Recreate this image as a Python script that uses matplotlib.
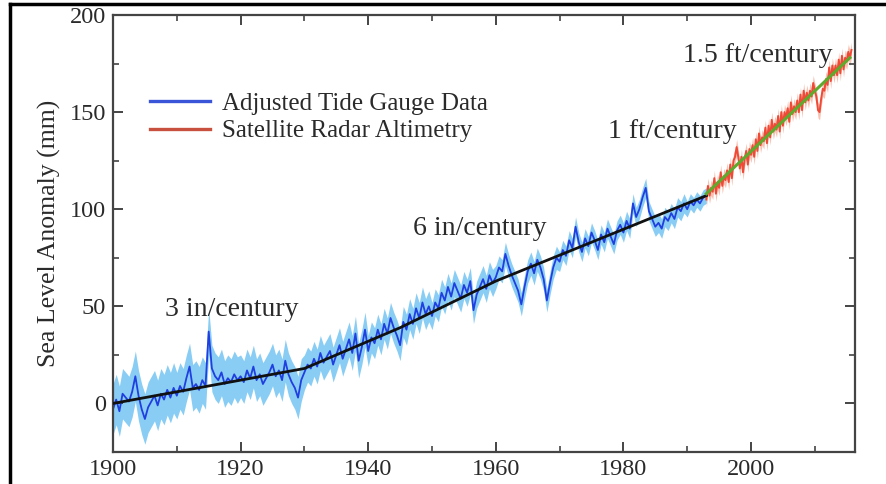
import numpy as np
import matplotlib
matplotlib.use("Agg")
import matplotlib.pyplot as plt
from matplotlib.lines import Line2D
from matplotlib.ticker import MultipleLocator

# ---------------- data ----------------
tide_start, tide_step = 1900.0, 0.5
tide_1900s = [-3, 2, -4, 5, 3, 1, 6, 14, 4, -3, -8, -2, 1, 4, -1, 5, 2, 7, 3, 8]
tide_1910s = [4, 9, 6, 13, 19, 8, 10, 7, 12, 9, 37, 18, 14, 12, 16, 10, 13, 11, 15, 12]
tide_1920s = [14, 11, 17, 13, 19, 12, 15, 10, 13, 16, 20, 14, 17, 12, 22, 15, 11, 8, 3, 12]
tide_1930s = [16, 20, 18, 23, 19, 26, 21, 24, 27, 20, 25, 30, 23, 28, 33, 26, 36, 22, 29, 38]
tide_1940s = [27, 34, 31, 38, 33, 41, 36, 44, 39, 35, 30, 42, 38, 46, 41, 49, 44, 52, 46, 50]
tide_1950s = [45, 52, 49, 57, 53, 60, 55, 62, 58, 54, 61, 57, 63, 48, 56, 60, 64, 59, 66, 62]
tide_1960s = [65, 70, 68, 77, 71, 66, 62, 58, 51, 60, 68, 72, 67, 74, 70, 64, 53, 62, 70, 75]
tide_1970s = [73, 79, 76, 84, 80, 91, 83, 78, 85, 81, 88, 84, 79, 87, 83, 90, 86, 82, 89, 92]
tide_1980s = [88, 94, 90, 103, 96, 100, 106, 111, 99, 95, 91, 93, 90, 96, 94, 98, 95, 101, 99, 103]
tide_1990s = [100, 104, 102, 105, 103, 106, 107]
tide_decades = [tide_1900s, tide_1910s, tide_1920s, tide_1930s, tide_1940s,
                tide_1950s, tide_1960s, tide_1970s, tide_1980s, tide_1990s]
# uncertainty half-width (mm) for each decade
tide_err = [13, 12, 11, 9, 8, 7, 6, 5, 5, 4]

sat_start, sat_step = 1993.0, 0.25
sat_values = [105, 112, 107, 111, 109, 116, 108, 114, 111, 119, 112, 117,
              115, 120, 114, 123, 116, 125, 127, 132, 127, 121, 127, 119,
              126, 130, 123, 131, 128, 133, 127, 136, 130, 139, 133, 137,
              135, 142, 134, 143, 137, 146, 140, 144, 141, 148, 140, 150,
              143, 150, 147, 152, 145, 155, 149, 153, 150, 156, 150, 159,
              151, 161, 155, 160, 156, 161, 158, 165, 161, 158, 151, 150,
              157, 162, 161, 167, 164, 173, 166, 174, 169, 174, 169, 177,
              170, 179, 172, 178, 176, 181, 178, 182]
sat_err = 4

trend_years = [1900, 1930, 1945, 1960, 1993]
trend_values = [0, 18, 39, 63, 107]
sat_trend_years = [1993, 2015.5]
sat_trend_values = [108, 178]

annotations = [("3 in/century", 1908.2, 48.5),
               ("6 in/century", 1947.0, 90),
               ("1 ft/century", 1977.6, 140),
               ("1.5 ft/century", 1989.3, 179)]
legend_labels = ["Adjusted Tide Gauge Data", "Satellite Radar Altimetry"]
x_ticks = [1900, 1920, 1940, 1960, 1980, 2000]
y_ticks = [0, 50, 100, 150, 200]

# ---------------- build arrays ----------------
tide_vals = np.concatenate([np.array(d, float) for d in tide_decades])
tide_years = tide_start + tide_step * np.arange(len(tide_vals))
tide_e = np.concatenate([np.full(len(d), e, float) for d, e in zip(tide_decades, tide_err)])
sat_vals = np.array(sat_values, float)
sat_years = sat_start + sat_step * np.arange(len(sat_vals))

# ---------------- plot ----------------
plt.rcParams['font.family'] = ['Liberation Serif', 'DejaVu Serif']
fig = plt.figure(figsize=(8.87, 4.84), dpi=100)
ax = fig.add_axes([113/887, 1 - 452/484, (855 - 113)/887, (452 - 15)/484])

text_col = '#2a2a2a'
ax.fill_between(tide_years, tide_vals - tide_e, tide_vals + tide_e,
                color='#7cc8f4', lw=0, alpha=0.9, zorder=1)
ax.plot(tide_years, tide_vals, color='#1f3fe0', lw=1.3, zorder=2)
ax.fill_between(sat_years, sat_vals - sat_err, sat_vals + sat_err,
                color='#f7b3a0', lw=0, alpha=0.8, zorder=1)
ax.plot(sat_years, sat_vals, color='#ef4a36', lw=1.4, zorder=2)
ax.plot(trend_years, trend_values, color='#111111', lw=2.0, zorder=3)
ax.plot(sat_trend_years, sat_trend_values, color='#5faa2e', lw=2.2, zorder=3)

for txt, x, y in annotations:
    ax.text(x, y, txt, fontsize=20, color=text_col, ha='left', va='center', zorder=4)

handles = [Line2D([], [], color='#3a55d8', lw=2.4), Line2D([], [], color='#c8503e', lw=2.4)]
leg = ax.legend(handles, legend_labels, loc='upper left', bbox_to_anchor=(0.026, 0.863),
                frameon=False, fontsize=18, handlelength=2.4, handletextpad=0.5,
                labelspacing=0.2, labelcolor=text_col, borderpad=0.2)

ax.set_xlim(1900, 2016.3)
ax.set_ylim(-25, 200)
ax.set_xticks(x_ticks)
ax.set_yticks(y_ticks)
ax.xaxis.set_minor_locator(MultipleLocator(10))
ax.yaxis.set_minor_locator(MultipleLocator(25))
ax.tick_params(which='both', direction='in', top=True, right=True, colors='#444444',
               labelcolor=text_col, labelsize=17.5)
ax.tick_params(which='major', length=7, width=1.4)
ax.tick_params(which='minor', length=4, width=1.2)
ax.tick_params(axis='x', pad=5)
ax.tick_params(axis='y', pad=5)
for s in ax.spines.values():
    s.set_color('#444444')
    s.set_linewidth(1.6)
ax.set_ylabel("Sea Level Anomaly (mm)", fontsize=18.5, color=text_col, labelpad=6)

# outer frame lines (top and left)
fig.add_artist(Line2D([10/887, 1], [1 - 4/484, 1 - 4/484], transform=fig.transFigure,
                      color='black', lw=2.5))
fig.add_artist(Line2D([10/887, 10/887], [0, 1 - 4/484], transform=fig.transFigure,
                      color='black', lw=2.5))

fig.savefig("out.png", dpi=100)
